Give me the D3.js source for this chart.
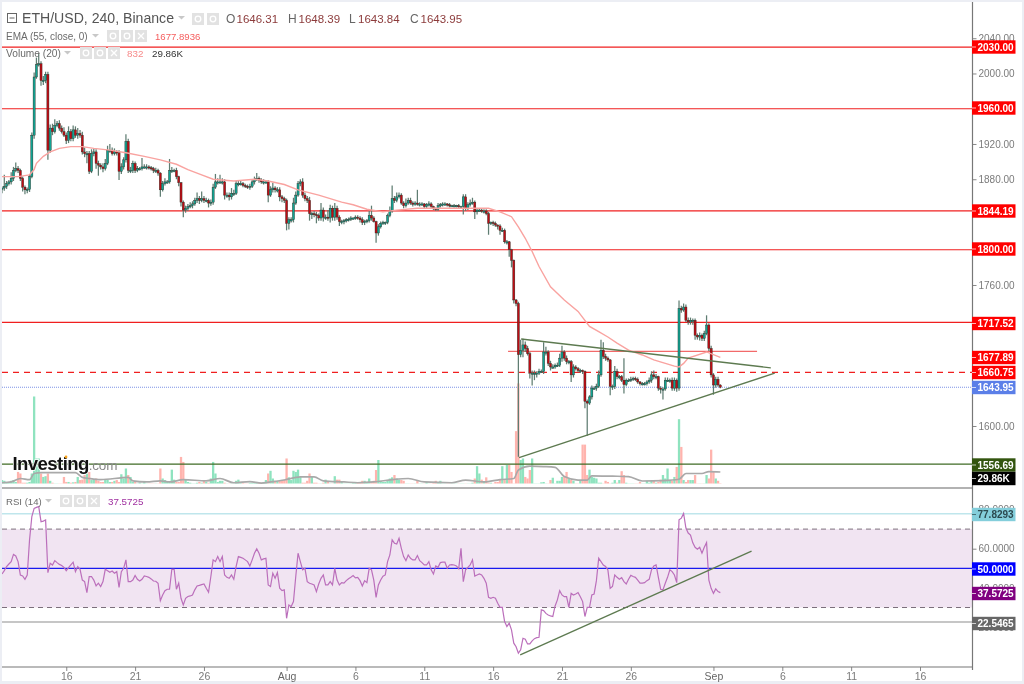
<!DOCTYPE html>
<html><head><meta charset="utf-8">
<script src="https://cdnjs.cloudflare.com/ajax/libs/d3/7.8.5/d3.min.js"></script>
<style>html,body{margin:0;padding:0;background:#fff}svg{display:block;filter:blur(.35px)}text{font-family:"Liberation Sans",Arial,sans-serif}</style>
</head><body><svg id="c" width="1024" height="684"></svg>
<script>
const closes=[
1870,1872,1875,1877,1881,1890,1892,1890,1881,1871,
1868,1868.5,1883,1930,1996,2010,2011,1992,1992,1999,
1913,1938,1934,1941,1943,1938,1934,1930,1924,1934,
1926,1936,1930,1932,1930,1911,1909,1909,1889,1909,
1911,1898,1896,1894,1892,1898,1913,1913,1909,1911,
1910,1889,1894,1902,1923,1890,1890,1898,1890,1892,
1892,1894,1894,1894,1893,1892,1890,1890,1887,1868,
1875,1877,1877,1890,1890,1890,1883,1876,1854,1845,
1847,1849,1850,1852,1856,1858,1856,1858,1856,1856,
1853,1854,1871,1877,1877,1877,1877,1862,1862,1860,
1864,1864,1875,1875,1875,1873,1872,1871,1872,1877,
1880,1881,1879,1877,1877,1877,1862,1868,1870,1868,
1868,1860,1858,1856,1830,1834,1834,1853,1862,1875,
1877,1862,1858,1856,1841,1841,1840,1839,1836,1845,
1837,1837,1836,1847,1837,1847,1837,1832,1832,1833,
1834,1834.5,1836,1836,1837,1836,1834,1831,1832,1833,
1839,1836,1832,1819,1826,1830,1831,1831,1839,1844,
1858,1856,1860,1862,1853,1850,1853,1856,1853,1852,
1853,1852,1852,1852,1849,1851,1852,1849,1847,1846,
1850,1851,1852,1852,1851,1850,1850,1850,1850,1849,
1849,1860,1847,1851,1853,1854,1843,1845,1845,1844,
1844,1841,1830,1831,1830,1828,1827,1822,1822,1809,
1809,1800,1788,1743,1739,1681,1686,1692,1688,1682,
1660,1660,1660,1660,1662,1662,1684,1684,1671,1667,
1667,1669,1669,1677,1684,1677,1673,1673,1658,1667,
1665,1663,1663,1662,1628,1626,1633,1643,1643,1645,
1658,1686,1679,1677,1675,1645,1645,1662,1656,1656,
1652,1647,1652,1652,1653,1654,1653,1650,1648,1648,
1648,1650,1652,1658,1656,1656,1643,1642,1642,1652,
1652,1652,1643,1652,1643,1733.5,1731.6,1735,1720,1718,
1720,1720,1703,1701,1703,1699.5,1705,1714.6,1688,1658,
1646.5,1653,1646.5,1643.95];
const firstOpen=1869;
const wickUp=[
2,13,3,2,7,4,7,3,2,2,
2,2,3,3,5,8,12,3,5,3,
3,4,5,7,3,4,3,5,3,6,
3,5,4,6,4,4,5,3,3,5,
4,3,3,2,4,5,5,7,3,4,
2,3,4,3,8,3,4,3,2,3,
2,10,3,3,2,2,2,3,2,1,
3,4,2,13,4,2,3,1,1,2,
3,3,4,3,3,7,3,8,3,3,
2,3,4,9,4,8,4,3,3,3,
6,4,3,4,3,2,2,2,3,3,
3,6,2,2,3,2,2,4,6,2,
3,3,2,2,2,3,3,6,4,3,
3,4,3,3,4,2,3,3,2,8,
3,3,8,4,3,6,3,2,2,2,
2,2,2,1,2,2,2,3,2,2,
5,11,2,1,3,2,2,1,2,5,
15,3,5,3,2,2,5,3,3,2,
2,15,2,2,1,2,3,2,1,1,
3,2,2,2,1,2,1,2,1,2,
1,3,3,3,4,5,2,2,2,2,
2,2,2,1,2,2,1,2,3,2,
2,1,1,1,1,2,12,7,4,3,
2,3,3,2,3,2,11,6,2,3,
3,2,3,5,7,2,3,2,2,3,
2,2,2,1,1,2,2,3,2,3,
5,12,9,3,2,1,2,6,3,2,
2,25,2,2,3,2,2,2,1,2,
2,2,3,4,5,3,1,2,2,3,
3,2,3,3,2,9,3,4,3,3,
3,2,2,2,3,2,3,11,2,3,
2,3,3,1];
const wickDown=[
5,3,3,2,3,3,2,3,3,5,
5,4,3,2,4,2,2,6,5,3,
11,3,4,2,2,3,2,2,4,3,
3,3,3,4,3,3,4,11,3,2,
3,6,12,3,4,2,2,3,2,2,
3,10,3,3,3,3,3,3,3,2,
2,2,2,3,2,2,3,3,3,8,
2,2,2,2,3,2,3,4,5,8,
3,3,2,3,2,3,4,2,3,2,
5,3,3,2,3,2,3,5,3,4,
3,3,2,3,2,2,2,2,3,2,
3,2,3,2,3,2,8,2,3,3,
3,5,4,3,8,7,3,3,2,2,
3,3,3,3,8,6,3,9,3,3,
5,3,3,5,4,4,3,5,3,3,
2,2,2,2,2,2,3,3,3,2,
2,3,1,11,3,2,2,3,2,2,
2,3,2,2,2,3,2,2,2,3,
2,2,3,2,2,2,2,2,2,2,
2,2,2,2,2,2,1,2,2,2,
2,9,3,2,2,2,8,3,2,2,
3,2,13,2,3,2,4,5,2,2,
3,8,8,4,3,116,3,8,4,2,
6,14,8,5,2,2,3,4,3,4,
2,2,2,2,4,3,3,3,8,3,
2,2,3,3,8,37,2,3,2,3,
2,2,3,3,2,10,4,3,3,3,
2,10,2,2,2,2,2,2,2,2,
2,2,2,3,3,3,3,5,12,2,
2,3,3,3,4,3,3,2,2,3,
3,5,5,3,4,3,3,2,3,3,
11,3,2,1];
const volume=[
9,7,2,2,7,9,4,30,26,2,
2,2,4,26,226,65,65,26,17,19,
26,7,2,.5,.5,.5,.5,17,4,4,
2,3,4,17,9,10,22,26,30,9,
10,13,7,4,4,9,10,4,4,7,
9,4,24,13,39,22,17,4,4,.5,
2,.5,4,.5,.5,.5,.5,.5,.5,39,
13,9,4,4,36,10,4,4,69,56,
10,4,2,.5,.5,2,4,2,7,4,
2,13,56,26,4,7,7,2,.5,.5,
.5,.5,7,10,4,2,.5,.5,2,2,
2,4,2,2,4,9,26,33,13,7,
7,7,9,10,65,16,9,33,30,36,
17,2,2,7,26,19,2,2,.5,.5,
2,10,4,.5,.5,19,10,10,4,.5,
.5,.5,.5,2,4,4,4,7,7,2,
13,4,7,35,61,7,4,4,7,13,
16,22,13,10,9,7,.5,.5,.5,.5,
.5,7,.5,.5,.5,4,.5,.5,4,7,
4,7,.5,.5,.5,.5,.5,.5,.5,.5,
.5,.5,.5,.5,.5,2,13,45,26,10,
4,16,2,2,.5,4,4,9,45,9,
48,48,30,.5,136,260,61,65,17,13,
35,65,.5,.5,.5,3,4,.5,.5,9,
15,.5,7,7,17,17,30,13,9,7,
.5,.5,9,101,101,22,36,17,15,13,
2,2,.5,7,4,.5,2,9,2,9,
32,22,2,.5,.5,.5,.5,.5,4,.5,
.5,7,2,7,9,2,4,10,22,13,
39,9,7,17,43,167,95,9,4,9,
9,9,22,.5,.5,.5,.5,22,13,88,
30,13,7,.83];
const rsi=[
47.1,48.8,50.9,52.2,53.4,57.1,56.3,53.4,46.6,46.1,
44.4,46.6,64.5,76.4,80.6,81.1,81.5,73.8,74.1,74.7,
47.8,52.6,51.7,53.9,52.9,52,51.4,50.5,48.8,50.3,
51.7,53.1,48.3,50.9,49.5,44,43.2,37.6,45.8,45.8,
44,41,42.4,40.7,43.2,49.5,48.8,48,48.6,47.5,
48.3,40.3,48.3,50,54.3,43.2,43.2,44,46.3,44.4,
43.5,44.4,46.1,45.8,45.4,44.6,43.5,43.4,42.4,33.5,
36.4,38.6,39.3,39.3,49.5,49.5,39.3,42.4,34.7,31.3,
34.7,35.6,35.9,36.4,39,41,41.3,41.7,42,39.8,
37.8,45.8,54.3,53.4,56,53.4,56,46.6,45.4,44.9,
46.6,44.4,50.9,56,55.6,55.1,54.3,53.4,51.2,54.3,
57.7,59.9,57.7,54.3,54.8,55.1,41.5,40.7,47.5,44.9,
47.8,39.8,38.6,39,24.5,31.3,30.5,33,45.8,57.7,
53.4,49.2,50,43.2,42.4,42,41.5,38.1,42,44.9,
46.6,41.5,41.5,43.2,41.5,50,44,41.5,42.7,42.4,
43.7,44.7,45.4,46.3,45.1,45.4,43.7,41,43.7,42.7,
50,49.2,44,35.2,41.5,44,46,46.6,53.4,56.8,
64.5,62.8,62.4,65.3,60.2,56,53.9,56.8,55.1,54.3,
54.3,56.5,53.9,52.9,51.7,51.7,53.4,49.2,47.1,51.2,
50.5,52.9,53.1,53.1,50,51.7,51.9,51.7,51.2,49.8,
60.2,43.2,49.2,50.5,51.7,54.3,46,46.6,47.1,46.6,
44.9,42.4,35.2,34.7,35.2,34.7,32.2,30.1,30.1,22.8,
20.3,22,18.6,11.8,10,6.7,8.4,14.3,13.8,11.4,
11.4,13,14.1,14.6,14.8,28.8,28.4,27,26.2,25.7,
25.4,30.8,33.9,38.6,36.4,35.5,35.5,30.1,37.2,36.4,
36.9,37.6,35.5,33,25.4,30.1,30.1,36.4,36.9,43.7,
55.1,53.4,51.7,50.9,49.2,39.8,40.7,46.6,45.4,44.4,
45.2,43.2,42,44.4,46.4,45.8,45.4,44,42.4,42.4,
42.7,43.7,44.4,49.2,51.2,51.7,45.4,39.3,39,42.4,
45.4,49.2,48.3,46.6,42.7,74.7,75.6,78,70.5,68,
67,63,60.7,59.7,60.7,57.7,60.7,63.1,44,39.8,
37.2,39.5,38.1,37.57];
const emaBars=[0,7,12,14,15,18,21,25,30,35,40,47,54,62,69,76,81,87,92,101,110,116,123,129,138,148,153,159,166,172,181,191,203,212,217,222,225,228,231,234,239,245,251,256,260,264,268,273,279,284,293,295,297,299,307,313];
const emaVals=[1883,1883,1885,1891,1898,1906,1911,1915,1917,1917,1915,1913,1910,1906,1902,1897,1891,1885,1880,1878,1880,1878,1874,1868,1862,1854,1851,1846,1843,1845,1847,1847,1847,1847,1843,1837.5,1826,1813,1798,1781,1758,1743,1730,1713,1707,1701,1694,1686,1680.6,1675,1668,1667,1671,1677,1684,1677.89];
const volMaBars=[0,4,8,12,14,17,24,28,32,35,38,43,55,57,63,69,73,79,89,95,101,108,113,117,123,130,136,140,149,155,162,170,177,184,196,202,210,217,223,225,230,236,241,245,251,255,257,266,273,279,288,295,298,305,308,313];
const volMaVals=[2,4,13,10,26,28,28,28,28,16,13,10,16,7,4,7,4,10,7,13,2,5,1,4,9,17,17,7,4,2,4,10,13,4,2,9,4,10,13,35,45,44,42,18,9,9,20,19,18,6.5,7.5,11,26,26,31,29.86];

const priceTicks=[2040,2000,1920,1880,1760,1600];
const rsiTicks=[80,60,40,20];
const dayOffsets=[0,5,10,16,21,26,31,36,41,47,52,57,62];
const dayLabels=["16","21","26","Aug","6","11","16","21","26","Sep","6","11","16"];
const barsPerDay=6, barOfFirstDay=28;

const redLevels=[2030,1960,1844.19,1800,1717.52];
const shortLevel=1684.6, dashedLevel=1660.75, lastPrice=1643.95, greenLevel=1556.69;
const upperTrendBars=[226.2,335], upperTrendVals=[1698.7,1666];
const lowerTrendBars=[225.3,336.7], lowerTrendVals=[1564,1660];
const shortBars=[220.5,329];
const rsiTrendBars=[225.8,326.6], rsiTrendVals=[5.8,58.8];
const rsiLevels={top:77.8293,mid:50,low:22.5465,last:37.5725,upper:70,lower:30};

const svg=d3.select("#c");
const L=2,R=972;
const x=d3.scaleLinear().domain([0,400]).range([2,2+2.295*400]);
const y=d3.scaleLinear().domain([1600,2040]).range([426,426-440*0.8813]);
const v=d3.scaleLinear().domain([0,260]).range([483.5,483.5-260*0.385]);
const r=d3.scaleLinear().domain([50,60]).range([568.3,548.7]);

// page frame
svg.append("rect").attr("width",1024).attr("height",684).attr("fill","#eceef4");
svg.append("rect").attr("x",2).attr("y",2).attr("width",1020).attr("height",679).attr("fill","#fff");

const defs=svg.append("defs");
defs.append("clipPath").attr("id","paneA").append("rect").attr("x",L).attr("y",2).attr("width",R-L).attr("height",485);
defs.append("clipPath").attr("id","paneB").append("rect").attr("x",L).attr("y",489).attr("width",R-L).attr("height",178);
const paneTop=svg.append("g").attr("clip-path","url(#paneA)");
const paneBot=svg.append("g").attr("clip-path","url(#paneB)");

const bars=closes.map((c,i)=>{const o=i?closes[i-1]:firstOpen;return{i,o,c,h:Math.max(o,c)+wickUp[i],l:Math.min(o,c)-wickDown[i],vol:volume[i]};});

// volume
paneTop.selectAll(".vol").data(bars).join("rect").attr("class","vol")
 .attr("x",d=>x(d.i)-1.15).attr("width",2.3).attr("y",d=>v(d.vol)).attr("height",d=>v(0)-v(d.vol))
 .attr("fill",d=>d.c>=d.o?"#8fe3bf":"#ffb4ae");
paneTop.append("path").datum(volMaBars.map((b,i)=>[b,volMaVals[i]]))
 .attr("d",d3.line().x(d=>x(d[0])).y(d=>v(d[1])).curve(d3.curveMonotoneX))
 .attr("fill","none").attr("stroke","#a9a9a9").attr("stroke-width",1.7);

// levels
const hline=(g,py,col,w,dash)=>g.append("line").attr("x1",L).attr("x2",R).attr("y1",py).attr("y2",py).attr("stroke",col).attr("stroke-width",w).attr("stroke-dasharray",dash||null);
redLevels.forEach(p=>hline(paneTop,y(p),"#f01f1f",1.2));
hline(paneTop,y(dashedLevel),"#f01f1f",1.2,"6 5");
hline(paneTop,y(lastPrice),"#7d93e6",1.2,"1 1");
hline(paneTop,y(greenLevel),"#3f6b24",1.3);
paneTop.append("line").attr("x1",x(shortBars[0])).attr("x2",x(shortBars[1])).attr("y1",y(shortLevel)).attr("y2",y(shortLevel)).attr("stroke","#f26a6a").attr("stroke-width",1.2);

// candles
paneTop.selectAll(".wick").data(bars).join("line").attr("class","wick")
 .attr("x1",d=>x(d.i)).attr("x2",d=>x(d.i)).attr("y1",d=>y(d.h)).attr("y2",d=>y(d.l))
 .attr("stroke","#5f7d72").attr("stroke-width",1.25);
paneTop.selectAll(".body").data(bars).join("rect").attr("class","body")
 .attr("x",d=>x(d.i)-1.05).attr("width",2.1)
 .attr("y",d=>y(Math.max(d.o,d.c))).attr("height",d=>Math.max(1.2,Math.abs(y(d.o)-y(d.c))))
 .attr("fill",d=>d.c>=d.o?"#12a393":"#bd0d15").attr("stroke","#2b2b22").attr("stroke-width",.4);

// EMA
paneTop.append("path").datum(emaBars.map((b,i)=>[b,emaVals[i]]))
 .attr("d",d3.line().x(d=>x(d[0])).y(d=>y(d[1])))
 .attr("fill","none").attr("stroke","#f9a3a0").attr("stroke-width",1.4);

// trend lines
const seg=(g,bs,vs,sc)=>g.append("line").attr("x1",x(bs[0])).attr("x2",x(bs[1])).attr("y1",sc(vs[0])).attr("y2",sc(vs[1])).attr("stroke","#5d7a50").attr("stroke-width",1.3);
seg(paneTop,upperTrendBars,upperTrendVals,y);
seg(paneTop,lowerTrendBars,lowerTrendVals,y);

// RSI pane
paneBot.append("rect").attr("x",L).attr("width",R-L).attr("y",r(rsiLevels.upper)).attr("height",r(rsiLevels.lower)-r(rsiLevels.upper)).attr("fill","#f1e4f2");
hline(paneBot,r(rsiLevels.upper),"#7c6f7c",1,"5 4");
hline(paneBot,r(rsiLevels.lower),"#7c6f7c",1,"5 4");
hline(paneBot,r(rsiLevels.top),"#bfe6ec",1.5);
hline(paneBot,r(rsiLevels.mid),"#1a1aef",1.2);
hline(paneBot,r(rsiLevels.low),"#b3b3b3",1.5);
paneBot.append("path").datum(rsi).attr("d",d3.line().x((d,i)=>x(i)).y(d=>r(d)))
 .attr("fill","none").attr("stroke","#bb6fbb").attr("stroke-width",1.2);
seg(paneBot,rsiTrendBars,rsiTrendVals,r);

// axes
const axisStyle=g=>{g.selectAll("text").attr("fill","#7b7b7b").style("font-size","10px").style("font-family",'"Liberation Sans",Arial,sans-serif');g.selectAll("line").attr("stroke","#888");g.select(".domain").remove();};
svg.append("g").attr("transform",`translate(${R+.5},0)`).call(d3.axisRight(y).tickValues(priceTicks).tickFormat(d3.format(".2f")).tickSize(4).tickPadding(2)).call(axisStyle);
svg.append("g").attr("transform",`translate(${R+.5},0)`).call(d3.axisRight(r).tickValues(rsiTicks).tickFormat(d3.format(".4f")).tickSize(4).tickPadding(2)).call(axisStyle);
const tickBars=dayOffsets.map(d=>barOfFirstDay+d*barsPerDay);
const xAx=svg.append("g").attr("transform","translate(0,667)").call(d3.axisBottom(x).tickValues(tickBars).tickFormat((d,i)=>dayLabels[i]).tickSize(4).tickPadding(2)).call(axisStyle);
xAx.selectAll("text").style("font-size","10.5px").attr("fill",(d,i)=>/[A-Z]/.test(dayLabels[i])?"#666":"#7b7b7b");
svg.append("line").attr("x1",R+.5).attr("x2",R+.5).attr("y1",2).attr("y2",670).attr("stroke","#777").attr("stroke-width",1.2);
svg.append("line").attr("x1",L).attr("x2",R).attr("y1",488).attr("y2",488).attr("stroke","#666").attr("stroke-width",1.2);
svg.append("line").attr("x1",L).attr("x2",R).attr("y1",667).attr("y2",667).attr("stroke","#777").attr("stroke-width",1.2);

// axis value tags
const tag=(py,txt,bg,fg)=>{
 svg.append("rect").attr("x",R).attr("y",py-6.7).attr("width",43.5).attr("height",13.4).attr("fill",bg);
 svg.append("line").attr("x1",R).attr("x2",R+4).attr("y1",py).attr("y2",py).attr("stroke",fg).attr("stroke-width",1).attr("opacity",.7);
 svg.append("text").attr("x",R+5.5).attr("y",py+3.6).attr("fill",fg).style("font-size","10px").style("font-weight","700").text(txt);
};
tag(47,"2030.00","#ff0000","#fff");
tag(108,"1960.00","#ff0000","#fff");
tag(211,"1844.19","#ff0000","#fff");
tag(249,"1800.00","#ff0000","#fff");
tag(323.5,"1717.52","#ff0000","#fff");
tag(357.5,"1677.89","#ff0000","#fff");
tag(372.5,"1660.75","#ff0000","#fff");
tag(387.5,"1643.95","#5b7fe8","#fff");
tag(465,"1556.69","#33550f","#fff");
tag(478.5,"29.86K","#000","#fff");
tag(514.5,"77.8293","#84cedb","#2c4a50");
tag(569,"50.0000","#0000ff","#fff");
tag(593.5,"37.5725","#800080","#fff");
tag(623.5,"22.5465","#666","#fff");

// header
const label=(px,py,txt,size,col,wt)=>svg.append("text").attr("x",px).attr("y",py).attr("fill",col).style("font-size",size+"px").style("font-weight",wt||400).text(txt);
const tri=(px,py)=>svg.append("path").attr("d",`M${px},${py}h7l-3.5,3.5z`).attr("fill","#c8c8c8");
const icons=(list,py,s)=>list.forEach((px,n)=>{
 svg.append("rect").attr("x",px).attr("y",py).attr("width",s).attr("height",s).attr("fill","#e2e2e2");
 if(n<2) svg.append("circle").attr("cx",px+s/2).attr("cy",py+s/2).attr("r",2.8).attr("fill","none").attr("stroke","#fff").attr("stroke-width",1.3);
 else svg.append("path").attr("d",`M${px+3},${py+3}L${px+s-3},${py+s-3}M${px+s-3},${py+3}L${px+3},${py+s-3}`).attr("stroke","#fff").attr("stroke-width",1.3);
});
svg.append("rect").attr("x",7.5).attr("y",13.5).attr("width",9).attr("height",9).attr("fill","none").attr("stroke","#666");
svg.append("line").attr("x1",9.5).attr("x2",14.5).attr("y1",18).attr("y2",18).attr("stroke","#666");
label(22,23,"ETH/USD, 240, Binance",14.1,"#555");
tri(178,16); icons([192,207],13,12);
[["O",226,"1646.31"],["H",288,"1648.39"],["L",349,"1643.84"],["C",410,"1643.95"]].forEach(([k,px,val])=>{
 label(px,23,k,12,"#666"); label(px+(k==="L"?9:10.5),23,val,11.5,"#8c3b3b");
});
label(6,40,"EMA (55, close, 0)",10,"#6b6b6b");
tri(92,34); icons([107,121,135],30,12);
label(155,40,"1677.8936",9.6,"#f55e5e");
label(6,57,"Volume (20)",10.2,"#6b6b6b");
tri(64,51); icons([80,94,108],47,12);
label(127,57,"832",9.8,"#f78a8a");
label(152,57,"29.86K",9.8,"#333");
label(6,505,"RSI (14)",9.6,"#6b6b6b");
tri(45,499); icons([60,74,88],495,12);
label(108,505,"37.5725",9.8,"#a030a0");

// watermark
const wm=svg.append("text").attr("x",12.5).attr("y",470).style("font-weight","700").style("font-size","18.6px").style("letter-spacing","-.6px");
wm.append("tspan").attr("fill","#111").attr("stroke","#fff").attr("stroke-width",1.4).style("paint-order","stroke").text("Investing");
wm.append("tspan").attr("fill","#888").style("font-weight","400").style("font-size","13.5px").style("letter-spacing","-.2px").text(".com");
svg.append("circle").attr("cx",66).attr("cy",457).attr("r",1.4).attr("fill","#f7a21b");
</script></body></html>
